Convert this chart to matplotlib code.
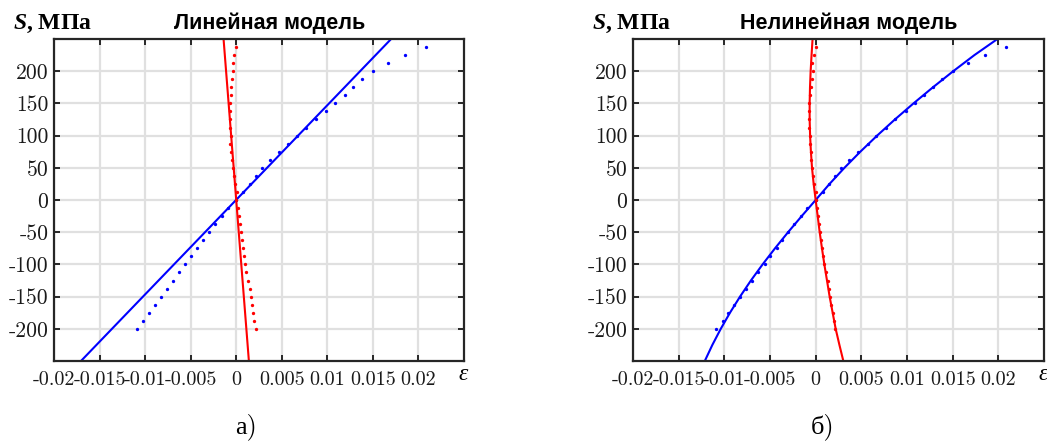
import matplotlib
matplotlib.use("Agg")
import matplotlib.pyplot as plt

# ---------------- data ----------------
S_exp = [-200, -187.5, -175, -162.5, -150, -137.5, -125, -112.5, -100, -87.5,
         -75, -62.5, -50, -37.5, -25, -12.5, 0, 12.5, 25, 37.5, 50, 62.5, 75,
         87.5, 100, 112.5, 125, 137.5, 150, 162.5, 175, 187.5, 200, 212.5, 225, 237.5]

eps_long_exp = [-0.01090, -0.01020, -0.00955, -0.00891, -0.00825, -0.00763, -0.00697,
                -0.00632, -0.00558, -0.00495, -0.00428, -0.00364, -0.00299, -0.00237,
                -0.00157, -0.00093, 0.0, 0.00075, 0.00150, 0.00212, 0.00280, 0.00369,
                0.00465, 0.00572, 0.00663, 0.00770, 0.00872, 0.00989, 0.01084, 0.01190,
                0.01284, 0.01382, 0.01504, 0.01668, 0.01852, 0.02088]

eps_trans_exp = [0.00212, 0.00197, 0.00186, 0.00172, 0.00157, 0.00146, 0.00131, 0.00110,
                 0.00091, 0.00080, 0.00073, 0.00058, 0.00047, 0.00036, 0.00029, 0.00018,
                 0.0, 0.00004, -0.00018, -0.00029, -0.00036, -0.00047, -0.00055, -0.00066,
                 -0.00062, -0.00069, -0.00069, -0.00073, -0.00069, -0.00058, -0.00055,
                 -0.00044, -0.00033, -0.00036, -0.00022, 0.0]

# linear model (end points)
S_lin = [-250, 250]
eps_long_lin = [-0.01704, 0.01700]
eps_trans_lin = [0.00139, -0.00139]

# nonlinear model
S_nl = [-250, -225, -200, -175, -150, -125, -100, -75, -50, -25, 0,
        25, 50, 75, 100, 125, 150, 175, 200, 225, 250]
eps_long_nl = [-0.01214, -0.01131, -0.01039, -0.00938, -0.00828, -0.00709, -0.00581,
               -0.00445, -0.00302, -0.00153, 0.0, 0.00152, 0.00315, 0.00489, 0.00673,
               0.00867, 0.01071, 0.01284, 0.01506, 0.01738, 0.01990]
eps_trans_nl = [0.00303, 0.00260, 0.00219, 0.00186, 0.00153, 0.00124, 0.00095, 0.00069,
                0.00044, 0.00022, 0.0, -0.00022, -0.00040, -0.00052, -0.00061, -0.00066,
                -0.00066, -0.00062, -0.00055, -0.00045, -0.00034]

xticks = [-0.02, -0.015, -0.01, -0.005, 0, 0.005, 0.01, 0.015, 0.02]
xticklabels = ["-0.02", "-0.015", "-0.01", "-0.005", "0", "0.005", "0.01", "0.015", "0.02"]
yticks = [-200, -150, -100, -50, 0, 50, 100, 150, 200]
yticklabels = ["-200", "-150", "-100", "-50", "0", "50", "100", "150", "200"]

titles = ["Линейная модель", "Нелинейная модель"]
panel_labels = ["а)", "б)"]

# ---------------- style ----------------
plt.rcParams["mathtext.fontset"] = "custom"
plt.rcParams["mathtext.it"] = "Liberation Serif:italic:bold"
plt.rcParams["mathtext.rm"] = "Liberation Serif:bold"

W, H = 1047, 444
fig = plt.figure(figsize=(W / 100, H / 100), dpi=100)

frame_col = "#262626"
grid_col = "#e0e0e0"
tick_font = ["cmr10", "Liberation Serif"]

ax_px = [(54, 39, 464, 361), (633, 39, 1044, 361)]
title_cx = [270, 849]
ylab_x = [13, 592]
lab_cx = [246, 823]

axes = []
for i, (l, t, r, b) in enumerate(ax_px):
    ax = fig.add_axes([l / W, 1 - b / H, (r - l) / W, (b - t) / H])
    axes.append(ax)
    ax.set_xlim(-0.02, 0.025)
    ax.set_ylim(-250, 250)
    ax.set_xticks(xticks)
    ax.set_yticks(yticks)
    ax.set_xticklabels(xticklabels, fontfamily=tick_font, fontsize=14.5)
    ax.set_yticklabels(yticklabels, fontfamily=tick_font, fontsize=15.5)
    ax.grid(True, color=grid_col, linewidth=1.6)
    ax.set_axisbelow(True)
    ax.tick_params(direction="in", length=4, width=1.4, top=True, right=True,
                   color=frame_col, labelcolor="#1a1a1a")
    ax.tick_params(axis="x", pad=7)
    ax.tick_params(axis="y", pad=4)
    for sp in ax.spines.values():
        sp.set_linewidth(1.6)
        sp.set_color(frame_col)

    fig.text(title_cx[i] / W, 1 - 23 / H, titles[i], ha="center", va="center",
             fontfamily="Liberation Sans", fontweight="bold", fontsize=15.5)
    fig.text(ylab_x[i] / W, 1 - 24 / H, r"$S$, МПа", ha="left", va="center",
             fontfamily="Liberation Serif", fontweight="bold", fontsize=17)
    fig.text((r - 6) / W, 1 - 374 / H, "ε", ha="left", va="center",
             fontfamily="Liberation Serif", fontstyle="italic", fontsize=17)
    fig.text(lab_cx[i] / W, 1 - 427 / H, panel_labels[i], ha="center", va="center",
             fontfamily=tick_font, fontsize=19)

ax1, ax2 = axes
ax1.plot(eps_long_lin, S_lin, color="#0000ff", linewidth=1.5)
ax1.plot(eps_trans_lin, S_lin, color="#ff0000", linewidth=1.5)
ax2.plot(eps_long_nl, S_nl, color="#0000ff", linewidth=1.5)
ax2.plot(eps_trans_nl, S_nl, color="#ff0000", linewidth=1.5)
for ax in axes:
    ax.plot(eps_long_exp, S_exp, linestyle="none", marker="o", markersize=2.4,
            markeredgewidth=0, color="#0000ff")
    ax.plot(eps_trans_exp, S_exp, linestyle="none", marker="o", markersize=2.4,
            markeredgewidth=0, color="#ff0000")

fig.savefig("out.png", dpi=100)
